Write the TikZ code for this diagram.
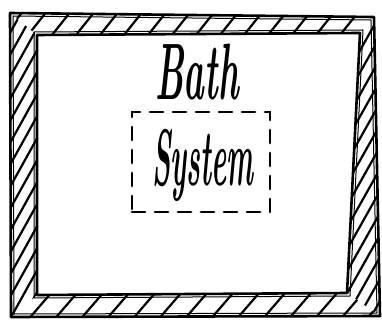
\documentclass[tikz,border=0pt]{standalone}
\begin{document}
\begin{tikzpicture}[x=1pt,y=-1pt,
  frameline/.style={line width=2.6pt,line join=round,line cap=round},
  thinline/.style={line width=1pt,line join=round},
  hatchline/.style={line width=2.2pt,line cap=round},
  dashbox/.style={draw,line width=2.8pt,dash pattern=on 13pt off 10pt,line cap=round},
  lbl/.style={inner sep=0pt,font=\fontsize{50}{50}\selectfont\bfseries\itshape}]
\useasboundingbox (0,0) rectangle (382,320);
% hatching: top and bottom bands
\begin{scope}
  \clip (10,13) -- (374,17) -- (360,33) -- (37,35) -- cycle;
  \foreach \i in {0,24,...,400}
    \draw[hatchline] (\i,40) -- (\i+32,0);
\end{scope}
\begin{scope}
  \clip (37,295) -- (347,293) -- (380,316) -- (11,317) -- cycle;
  \foreach \i in {0,26,...,400}
    \draw[hatchline] (\i,322) -- (\i+32,285);
\end{scope}
% hatching: left and right bands
\begin{scope}
  \clip (10,13) -- (37,35) -- (37,295) -- (11,317) -- cycle;
  \foreach \j in {20,42,...,380}
    \draw[hatchline] (5,\j) -- (45,\j-72);
\end{scope}
\begin{scope}
  \clip (374,17) -- (380,316) -- (347,293) -- (360,33) -- cycle;
  \foreach \j in {20,42,...,380}
    \draw[hatchline] (340,\j) -- (385,\j-80);
\end{scope}
% outer frame
\draw[frameline] (10,13) -- (374,17) -- (380,316) -- (11,317) -- cycle;
\draw[thinline] (13,16) -- (371,20) -- (377,313) -- (14,314) -- cycle;
% inner frame
\draw[frameline] (37,35) -- (360,33) -- (347,293) -- (37,295) -- cycle;
\draw[thinline] (34,32) -- (363,30) -- (350,296) -- (34,298) -- cycle;
% labels
\node[lbl] (bath) at (197,72) {\scalebox{0.7}[1.6]{Bath}};
\node[dashbox,minimum width=138pt,minimum height=100pt] (box) at (201,162) {};
\node[lbl] (sys) at (203,165) {\scalebox{0.57}[1.6]{System}};
\end{tikzpicture}
\end{document}
